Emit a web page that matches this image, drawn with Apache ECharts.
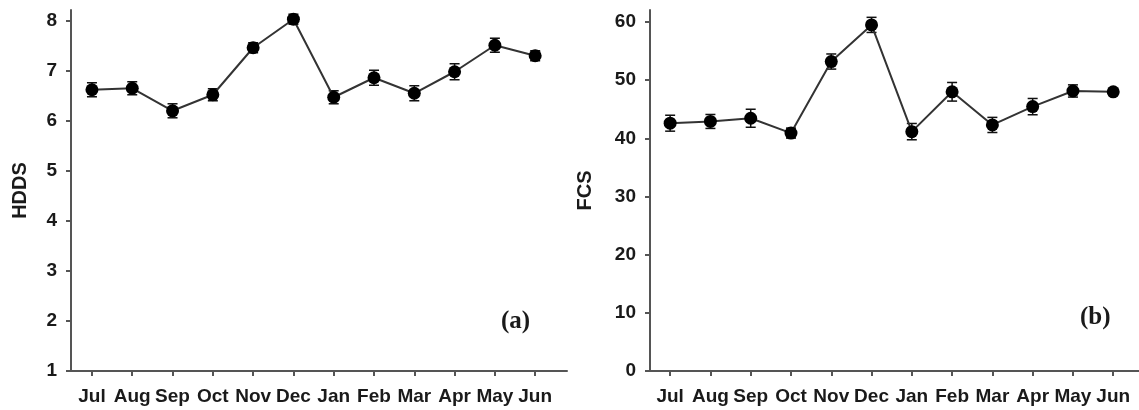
<!DOCTYPE html>
<html>
<head>
<meta charset="utf-8">
<script src="https://cdn.jsdelivr.net/npm/echarts@6/dist/echarts.min.js"></script>
<style>
  html, body { margin: 0; padding: 0; background: #fff; }
  #main { width: 1139px; height: 410px; }
</style>
</head>
<body>
<div id="main"></div>
<script>
const months = ['Jul', 'Aug', 'Sep', 'Oct', 'Nov', 'Dec', 'Jan', 'Feb', 'Mar', 'Apr', 'May', 'Jun'];
const hddsMean = [6.62, 6.65, 6.20, 6.52, 7.46, 8.03, 6.47, 6.86, 6.55, 6.98, 7.51, 7.30];
const hddsErr = [0.14, 0.13, 0.14, 0.12, 0.10, 0.10, 0.13, 0.15, 0.15, 0.16, 0.14, 0.10];
const fcsMean = [42.6, 42.9, 43.45, 40.9, 53.2, 59.5, 41.15, 48.0, 42.3, 45.45, 48.14, 48.0];
const fcsErr = [1.37, 1.2, 1.55, 0.86, 1.3, 1.3, 1.4, 1.6, 1.3, 1.4, 1.05, 0.5];
const hddsTicks = [1, 2, 3, 4, 5, 6, 7, 8];
const fcsTicks = [0, 10, 20, 30, 40, 50, 60];

(function () {
    const monthIdx = months.map(function (m, i) { return i; });
    const labelFont = {
        fontFamily: 'Liberation Sans',
        fontWeight: 'bold',
        fontSize: 19,
        color: '#1a1a1a'
    };
    const axisLine = { show: true, onZero: false, lineStyle: { color: '#555', width: 2 } };
    const axisTick = { show: true, length: 5, inside: false, lineStyle: { color: '#555', width: 2 } };

    function xAxis(gridIndex, min, max) {
        return {
            type: 'value',
            gridIndex: gridIndex,
            min: min,
            max: max,
            splitLine: { show: false },
            axisLine: axisLine,
            axisTick: Object.assign({ customValues: monthIdx }, axisTick),
            axisLabel: Object.assign({
                customValues: monthIdx,
                margin: 16,
                formatter: function (v) { return months[Math.round(v)]; }
            }, labelFont)
        };
    }

    function yAxis(gridIndex, name, min, max, ticks, gap) {
        return {
            type: 'value',
            gridIndex: gridIndex,
            name: name,
            nameLocation: 'middle',
            nameGap: gap,
            nameTextStyle: Object.assign({}, labelFont, { fontSize: 20 }),
            min: min,
            max: max,
            splitLine: { show: false },
            axisLine: axisLine,
            axisTick: Object.assign({ customValues: ticks }, axisTick),
            axisLabel: Object.assign({ customValues: ticks, margin: 14 }, labelFont)
        };
    }

    function errorSeries(idx, mean, err) {
        return {
            type: 'custom',
            xAxisIndex: idx,
            yAxisIndex: idx,
            z: 1,
            data: mean.map(function (v, i) { return [i, v - err[i], v + err[i]]; }),
            renderItem: function (params, api) {
                const lo = api.coord([api.value(0), api.value(1)]);
                const hi = api.coord([api.value(0), api.value(2)]);
                const w = 5;
                const style = { stroke: '#111', lineWidth: 1.5 };
                return {
                    type: 'group',
                    children: [
                        { type: 'line', shape: { x1: lo[0], y1: lo[1], x2: hi[0], y2: hi[1] }, style: style },
                        { type: 'line', shape: { x1: lo[0] - w, y1: lo[1], x2: lo[0] + w, y2: lo[1] }, style: style },
                        { type: 'line', shape: { x1: hi[0] - w, y1: hi[1], x2: hi[0] + w, y2: hi[1] }, style: style }
                    ]
                };
            }
        };
    }

    function lineSeries(idx, mean) {
        return {
            type: 'line',
            xAxisIndex: idx,
            yAxisIndex: idx,
            z: 2,
            symbol: 'circle',
            symbolSize: 13,
            itemStyle: { color: '#000' },
            lineStyle: { color: '#333', width: 2 },
            data: mean.map(function (v, i) { return [i, v]; })
        };
    }

    const option = {
        backgroundColor: '#fff',
        animation: false,
        title: [
            {
                text: '(a)',
                left: 501,
                top: 309,
                padding: 0,
                textStyle: { fontFamily: 'Liberation Serif', fontWeight: 'bold', fontSize: 25, color: '#1a1a1a' }
            },
            {
                text: '(b)',
                left: 1080,
                top: 305,
                padding: 0,
                textStyle: { fontFamily: 'Liberation Serif', fontWeight: 'bold', fontSize: 25, color: '#1a1a1a' }
            }
        ],
        grid: [
            { left: 71, top: 10, width: 496, height: 361 },
            { left: 650, top: 10, right: 0, height: 361 }
        ],
        xAxis: [xAxis(0, -0.52, 11.79), xAxis(1, -0.5, 11.64)],
        yAxis: [
            yAxis(0, 'HDDS', 1, 8.214, hddsTicks, 41),
            yAxis(1, 'FCS', 0, 62.06, fcsTicks, 55)
        ],
        series: [
            errorSeries(0, hddsMean, hddsErr),
            lineSeries(0, hddsMean),
            errorSeries(1, fcsMean, fcsErr),
            lineSeries(1, fcsMean)
        ]
    };

    const myChart = echarts.init(document.getElementById('main'));
    myChart.setOption(option);
}());
</script>
</body>
</html>
